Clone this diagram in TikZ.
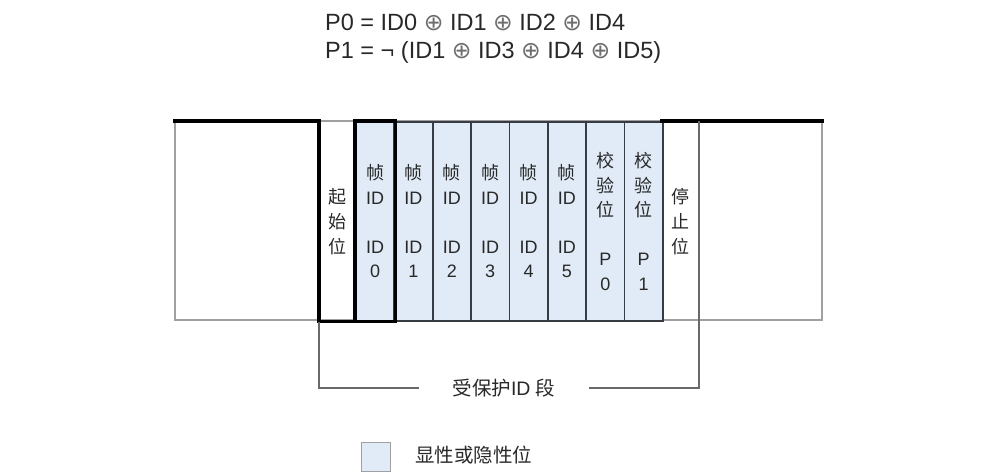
\documentclass[tikz,border=0pt]{standalone}
\usepackage{fontspec}
\setmainfont{Liberation Sans}
\newfontfamily\cjk{Noto Sans CJK SC}
\newfontfamily\symf{DejaVu Sans}
\definecolor{bitfill}{RGB}{224,235,247}
\definecolor{edgec}{RGB}{55,60,66}
\definecolor{thinc}{RGB}{160,160,160}
\definecolor{brc}{RGB}{105,105,105}
\definecolor{txt}{RGB}{40,40,40}
\definecolor{opc}{RGB}{110,110,110}
\newcommand{\xo}{{\symf\color{opc}⊕}}
\begin{document}
\begin{tikzpicture}[x=1pt,y=-1pt,
  cell/.style={draw=edgec, line width=1.8pt, fill=bitfill, minimum width=38.375pt,
    minimum height=199pt, anchor=north west, inner sep=0pt, align=center,
    font=\fontsize{18}{24.5}\selectfont, text=txt},
  plainbit/.style={cell, draw=none, fill=none, minimum width=36pt, font=\fontsize{18}{25}\selectfont},
  sig/.style={line width=3.2pt, black, line cap=rect},
  frame/.style={line width=1.3pt, thinc},
  bracket/.style={line width=1.6pt, brc},
  formula/.style={anchor=west, inner sep=0pt, font=\fontsize{23.5}{28}\selectfont, text=txt},
  legendbox/.style={draw=thinc, line width=0.8pt, fill=bitfill, minimum size=29pt, inner sep=0pt},
  label/.style={inner sep=0pt, font=\fontsize{19.5}{23}\selectfont, text=txt}
]
\useasboundingbox (0,0) rectangle (993,474);

% formulas
\node[formula] (f0) at (325,22) {P0 = ID0 \xo{} ID1 \xo{} ID2 \xo{} ID4};
\node[formula] (f1) at (325,52) {P1 = ¬ (ID1 \xo{} ID3 \xo{} ID4 \xo{} ID5)};

% thin frame of the line
\draw[frame] (175,121) rectangle (822,320);

% start and stop bits
\node[plainbit, minimum width=36pt] (start) at (319,121) {{\cjk 起}\\{\cjk 始}\\{\cjk 位}};
\node[plainbit, minimum width=35pt] (stop) at (662,121) {{\cjk 停}\\{\cjk 止}\\{\cjk 位}};

% identifier bits
\node[cell] (id0) at (355,121)     {{\cjk 帧}\\ID\\~\\ID\\0};
\node[cell] (id1) at (393.375,121) {{\cjk 帧}\\ID\\~\\ID\\1};
\node[cell] (id2) at (431.75,121)  {{\cjk 帧}\\ID\\~\\ID\\2};
\node[cell] (id3) at (470.125,121) {{\cjk 帧}\\ID\\~\\ID\\3};
\node[cell] (id4) at (508.5,121)   {{\cjk 帧}\\ID\\~\\ID\\4};
\node[cell] (id5) at (546.875,121) {{\cjk 帧}\\ID\\~\\ID\\5};
\node[cell] (p0)  at (585.25,121)  {{\cjk 校}\\{\cjk 验}\\{\cjk 位}\\~\\P\\0};
\node[cell] (p1)  at (623.625,121) {{\cjk 校}\\{\cjk 验}\\{\cjk 位}\\~\\P\\1};

% signal level
\coordinate (sigL) at (175,121);
\coordinate (sigR) at (822,121);
\draw[sig] (sigL) -- (start.north west) -- (start.south west) -- (id0.south west);
\draw[sig] (id0.north west) rectangle (id0.south east);
\draw[sig] (stop.north west) -- (sigR);

% protected segment bracket
\node[label, minimum width=170pt] (seg) at (504,388) {{\cjk 受保护}ID {\cjk 段}};
\draw[bracket] (start.south west) -- (start.south west |- seg.west) -- (seg.west);
\draw[bracket] (stop.north east) -- (stop.north east |- seg.east) -- (seg.east);

% legend
\node[legendbox] (lg) at (376,456.5) {};
\node[label, anchor=west] (lgt) at (415,455) {\cjk 显性或隐性位};
\end{tikzpicture}
\end{document}
